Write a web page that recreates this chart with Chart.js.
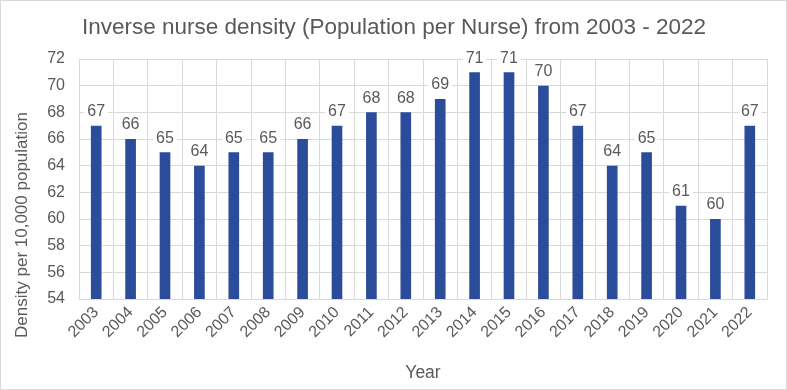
<!DOCTYPE html>
<html>
<head>
<meta charset="utf-8">
<script src="https://cdn.jsdelivr.net/npm/chart.js@4"></script>
<style>
  body { margin: 0; background: #fff; }
  #wrap { width: 785px; height: 388px; border: 1px solid #d9d9d9; }
</style>
</head>
<body>
<div id="wrap"><canvas id="chart" width="785" height="388"></canvas></div>
<script>
var years = ["2003", "2004", "2005", "2006", "2007", "2008", "2009", "2010", "2011", "2012",
  "2013", "2014", "2015", "2016", "2017", "2018", "2019", "2020", "2021", "2022"];
var density = [67, 66, 65, 64, 65, 65, 66, 67, 68, 68, 69, 71, 71, 70, 67, 64, 65, 61, 60, 67];

var textColor = "#595959";
var fontFamily = "'Liberation Sans', Arial, sans-serif";
var yTitle = "Density per 10,000 population";

// draw value labels above bars, on a white box so the grid breaks around them
var valueLabels = {
  id: "valueLabels",
  afterDatasetsDraw: function (chart) {
    var ctx = chart.ctx;
    var meta = chart.getDatasetMeta(0);
    ctx.save();
    ctx.font = "16px " + fontFamily;
    ctx.textAlign = "center";
    ctx.textBaseline = "bottom";
    meta.data.forEach(function (bar, i) {
      var txt = String(chart.data.datasets[0].data[i]);
      var w = ctx.measureText(txt).width;
      var y = bar.y - 6;
      ctx.fillStyle = "#ffffff";
      ctx.fillRect(bar.x - w / 2 - 3, y - 17, w + 6, 18);
      ctx.fillStyle = textColor;
      ctx.fillText(txt, bar.x, y);
    });
    ctx.restore();
  }
};

// y axis title sits lower than the plot centre in the original, so draw it by hand
var yAxisTitle = {
  id: "yAxisTitle",
  afterDraw: function (chart) {
    var ctx = chart.ctx;
    ctx.save();
    ctx.translate(21, 224);
    ctx.rotate(-Math.PI / 2);
    ctx.font = "17px " + fontFamily;
    ctx.fillStyle = textColor;
    ctx.textAlign = "center";
    ctx.textBaseline = "middle";
    ctx.fillText(yTitle, 0, 0);
    ctx.restore();
  }
};

var ctx = document.getElementById("chart").getContext("2d");
var chart = new Chart(ctx, {
  type: "bar",
  data: {
    labels: years,
    datasets: [
      {
        data: density,
        backgroundColor: "#2B4C9A",
        barPercentage: 0.62,
        categoryPercentage: 0.5
      }
    ]
  },
  options: {
    responsive: false,
    animation: false,
    layout: { padding: { top: 0, right: 19, left: 20, bottom: 0 } },
    plugins: {
      legend: { display: false },
      tooltip: { enabled: false },
      title: {
        display: true,
        text: "Inverse nurse density (Population per Nurse) from 2003 - 2022",
        color: textColor,
        font: { family: fontFamily, size: 22.5, weight: "normal" },
        padding: { top: 13, bottom: 18 }
      }
    },
    scales: {
      x: {
        grid: { color: "#d9d9d9", offset: true, drawTicks: false },
        border: { color: "#d9d9d9" },
        afterFit: function (scale) { scale.height = 90; },
        ticks: {
          color: textColor,
          font: { family: fontFamily, size: 16 },
          maxRotation: 45,
          minRotation: 45,
          padding: 4
        },
        title: {
          display: true,
          text: "Year",
          color: textColor,
          font: { family: fontFamily, size: 17.5 },
          padding: { top: 4, bottom: 5 }
        }
      },
      y: {
        min: 54,
        max: 72,
        grid: { color: "#d9d9d9", drawTicks: false },
        border: { display: false },
        afterFit: function (scale) { scale.width = 58; },
        ticks: {
          stepSize: 2,
          color: textColor,
          font: { family: fontFamily, size: 16 },
          padding: 14
        }
      }
    }
  },
  plugins: [valueLabels, yAxisTitle]
});
</script>
</body>
</html>
